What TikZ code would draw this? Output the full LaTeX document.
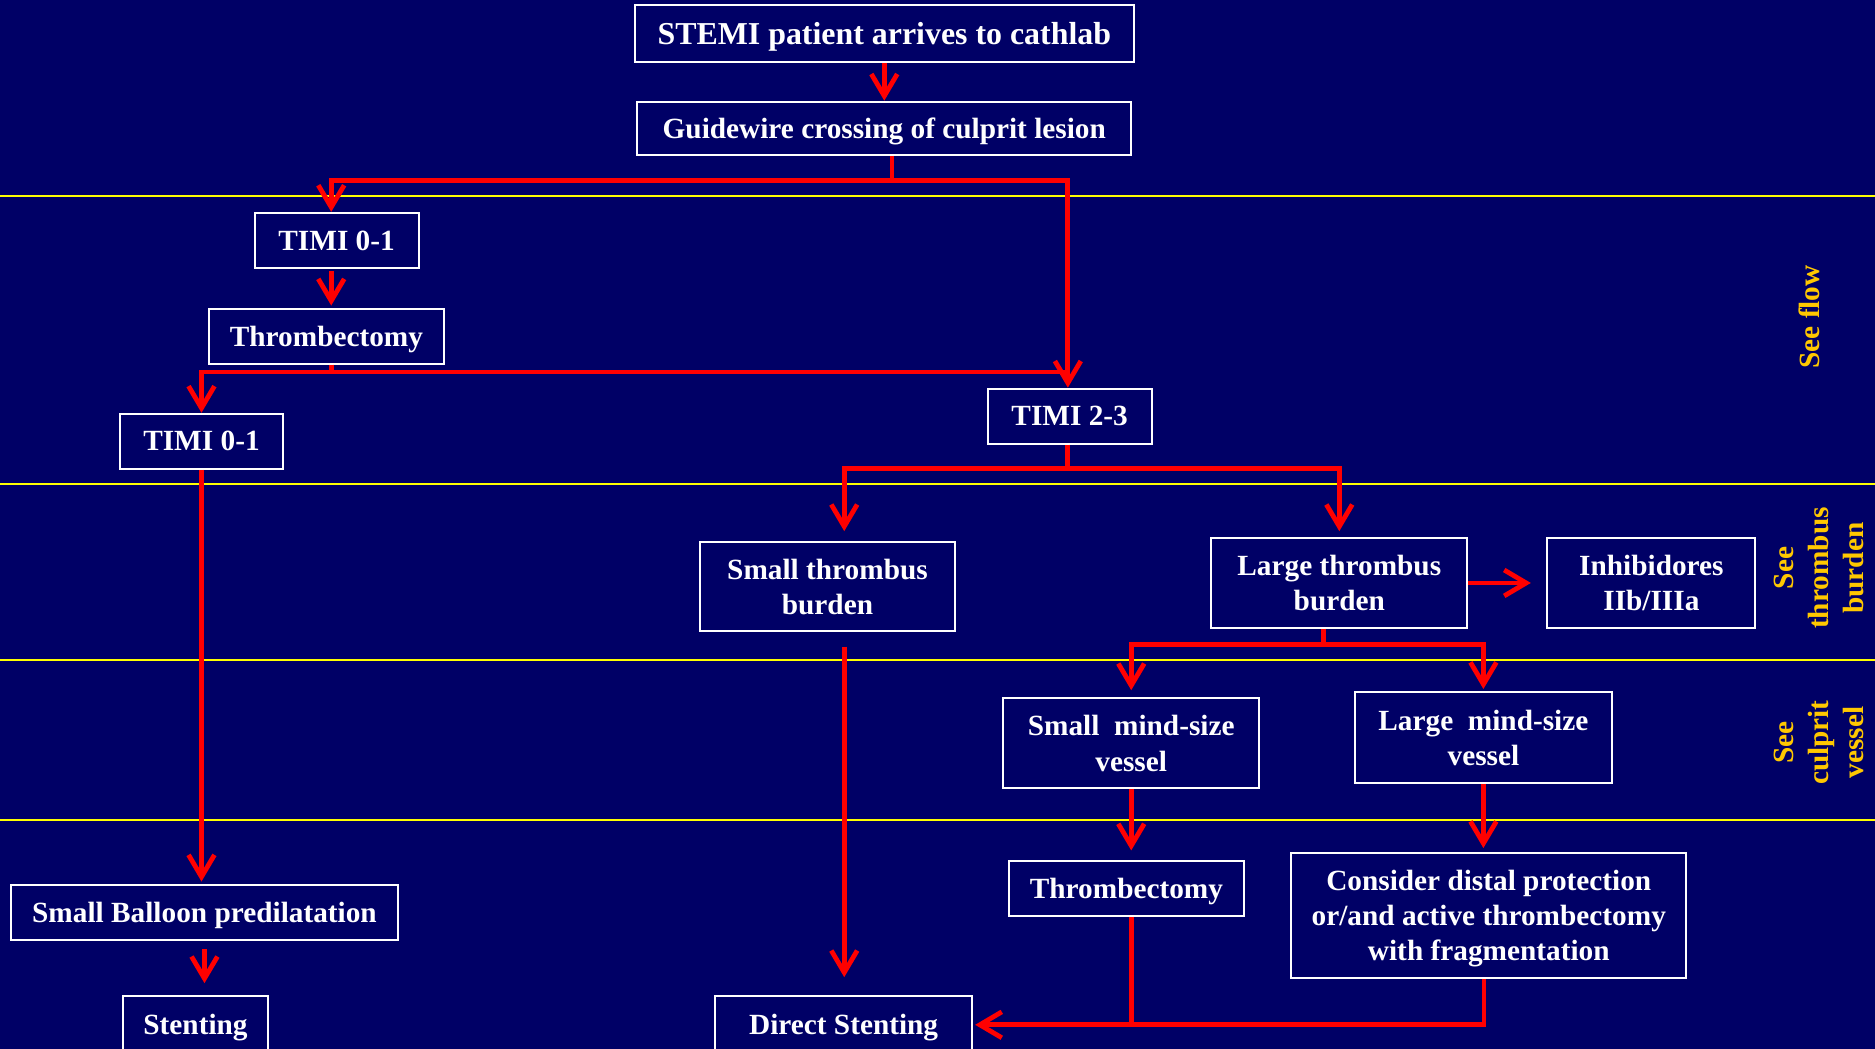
\documentclass[tikz,border=0pt]{standalone}
\usepackage{fontspec}
\setmainfont{Liberation Serif}
\usetikzlibrary{arrows.meta}
\definecolor{bgnavy}{RGB}{0,0,102}
\definecolor{linered}{RGB}{255,0,0}
\definecolor{rulecol}{RGB}{255,255,0}
\definecolor{labelorange}{RGB}{255,200,0}
\begin{document}
\begin{tikzpicture}[x=0.6pt,y=-0.6pt,
  box/.style={draw=white, line width=1pt, text=white, inner sep=0pt, align=center,
    text depth=0pt, font=\bfseries\fontsize{14.7}{17.7}\selectfont},
  conn/.style={draw=linered, line width=2.4pt},
  arr/.style={conn, -{Straight Barb[length=11pt,width=13pt]}},
  sidelabel/.style={text=labelorange, rotate=90, align=center, inner sep=0pt,
    font=\bfseries\fontsize{14.7}{17.7}\selectfont},
  yrule/.style={draw=rulecol, line width=1pt}]
\clip (0,0) rectangle (1568,877);
\fill[bgnavy] (0,0) rectangle (1568,877);
% horizontal separators
\foreach \yy in {164,405,552,686} \draw[yrule] (0,\yy) -- (1568,\yy);
% side labels
\node[sidelabel] (lflow) at (1513,265) {See flow};
\node[sidelabel] (lburden) at (1521,475) {See\\thrombus\\burden};
\node[sidelabel] (lvessel) at (1521,621) {See\\culprit\\vessel};
% boxes
\node[box, minimum width=250.2pt, minimum height=28.8pt, font=\bfseries\fontsize{16}{19}\selectfont] (stemi) at (739.5,28) {STEMI patient arrives to cathlab};
\node[box, minimum width=247.8pt, minimum height=27pt] (guide) at (739.5,107.5) {Guidewire crossing of culprit lesion};
\node[box, minimum width=82.2pt, minimum height=27.6pt] (timiA) at (281.5,201) {TIMI 0-1};
\node[box, minimum width=117.6pt, minimum height=27.6pt] (thrA) at (273,281) {Thrombectomy};
\node[box, minimum width=82.2pt, minimum height=27.6pt] (timiB) at (168.5,369) {TIMI 0-1};
\node[box, minimum width=82.2pt, minimum height=27.6pt] (timi23) at (894.5,348) {TIMI 2-3};
\node[box, minimum width=128.4pt, minimum height=45pt] (smallTB) at (692,490.5) {Small thrombus\\burden};
\node[box, minimum width=128.4pt, minimum height=45pt] (largeTB) at (1120,487.5) {Large thrombus\\burden};
\node[box, minimum width=104.4pt, minimum height=45pt] (inhib) at (1381,487.5) {Inhibidores\\IIb/IIIa};
\node[box, minimum width=128.4pt, minimum height=45pt] (smallMV) at (946,621.5) {Small\ \ mind-size\\vessel};
\node[box, minimum width=129pt, minimum height=45.6pt] (largeMV) at (1240.5,617) {Large\ \ mind-size\\vessel};
\node[box, minimum width=117.6pt, minimum height=27.6pt] (thrB) at (942,743) {Thrombectomy};
\node[box, minimum width=198pt, minimum height=63pt] (consider) at (1245,765.5) {Consider distal protection\\or/and active thrombectomy\\with fragmentation};
\node[box, minimum width=194.4pt, minimum height=27.6pt] (balloon) at (171,763) {Small Balloon predilatation};
\node[box, minimum width=72.6pt, minimum height=28.8pt] (stenting) at (163.5,857) {Stenting};
\node[box, minimum width=129pt, minimum height=28.8pt] (direct) at (705.5,857) {Direct Stenting};
% junctions
\coordinate (j1) at (746,151);
\coordinate (j2) at (277,311);
\coordinate (j3) at (893,392);
\coordinate (j3L) at (706,392);
\coordinate (j3R) at (1120,392);
\coordinate (j4) at (1107,539);
\coordinate (j6) at (1241,857);
% connectors
\draw[arr] (stemi.south) -- (guide.north);
\draw[conn] (guide.south -| j1) -- (j1);
\draw[arr] (j1) -| (timiA.north -| j2);
\draw[arr] (j1) -| (timi23.north -| j3);
\draw[arr, shorten <=1pt, shorten >=1pt] (j2 |- timiA.south) -- (j2 |- thrA.north);
\draw[conn] (thrA.south -| j2) -- (j2);
\draw[arr] (j2) -| (timiB.north);
\draw[conn] (j2) -- (j2 -| j3);
\draw[conn] (timi23.south -| j3) -- (j3);
\draw[arr, shorten >=4.8pt] (j3) -| (j3L |- smallTB.north);
\draw[arr, shorten >=3pt] (j3) -| (j3R |- largeTB.north);
\draw[arr, shorten >=7.8pt] (largeTB.east) -- (largeTB.east -| inhib.west);
\draw[conn] (largeTB.south -| j4) -- (j4);
\draw[arr, shorten >=3.6pt] (j4) -| (smallMV.north);
\draw[arr, shorten >=1.2pt] (j4) -| (largeMV.north);
\draw[arr, shorten >=4.8pt] (smallMV.south) -- (smallMV.south |- thrB.north);
\draw[arr, shorten >=1.8pt] (largeMV.south) -- (largeMV.south |- consider.north);
\draw[arr, shorten >=1pt] (consider.south -| j6) -- (j6) -- (j6 -| direct.east);
\draw[conn] (smallMV.south |- thrB.south) -- (smallMV.south |- j6);
\draw[arr, shorten <=7.2pt, shorten >=9pt] (j3L |- smallTB.south) -- (j3L |- direct.north);
\draw[arr, shorten >=1.2pt] (timiB.south) -- (timiB.south |- balloon.north);
\draw[arr, shorten <=4.2pt, shorten >=6pt] (balloon.south) -- (balloon.south |- stenting.north);
\end{tikzpicture}
\end{document}
